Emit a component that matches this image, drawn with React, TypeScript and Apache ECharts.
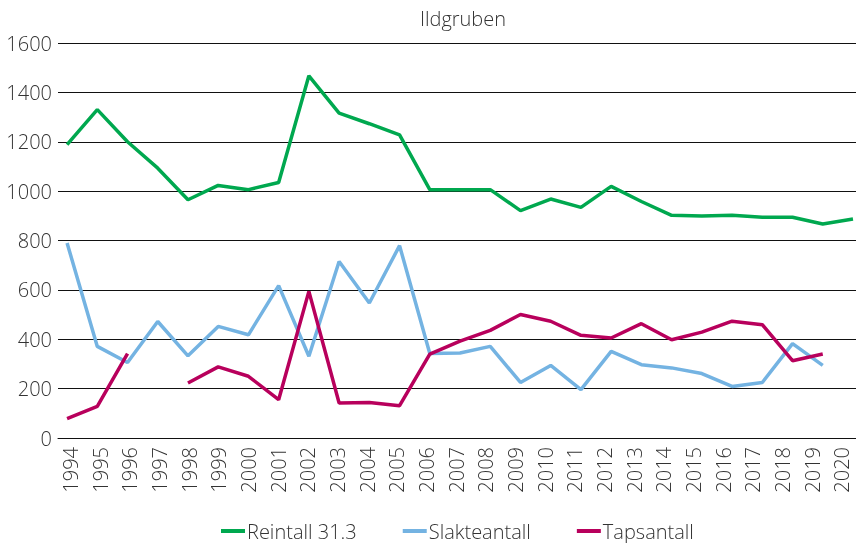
import React, { useEffect, useRef } from "react";
import * as echarts from "echarts";

const years = [1994, 1995, 1996, 1997, 1998, 1999, 2000, 2001, 2002, 2003, 2004, 2005, 2006, 2007, 2008, 2009, 2010, 2011, 2012, 2013, 2014, 2015, 2016, 2017, 2018, 2019, 2020];
const reintall = [1188, 1330, 1200, 1093, 965, 1023, 1006, 1035, 1467, 1316, 1273, 1228, 1006, 1006, 1006, 921, 968, 934, 1019, 958, 902, 899, 902, 894, 894, 867, 887];
const slakteantall = [790, 371, 306, 472, 333, 452, 418, 617, 331, 715, 547, 779, 342, 344, 371, 225, 294, 196, 351, 297, 284, 261, 209, 225, 382, 294, null];
const tapsantall = [78, 128, 342, null, 223, 288, 250, 155, 594, 142, 144, 131, 340, 392, 436, 500, 473, 416, 405, 463, 398, 429, 473, 459, 313, 340, null];
const yTicks = { min: 0, max: 1600, interval: 200 };
const title = "Ildgruben";
const names = ["Reintall 31.3", "Slakteantall", "Tapsantall"];
const colors = ["#00a84f", "#74b3e2", "#b8005c"];

const FONT = "'Open Sans', 'DejaVu Sans', sans-serif";
const TEXT = "#333333";

export default function App() {
  const ref = useRef<HTMLDivElement>(null);
  useEffect(() => {
    if (!ref.current) return;
    const chart = echarts.init(ref.current, null, { renderer: "svg" });
    const mk = (vals: (number | null)[]) => years.map((y, i) => [y, vals[i]]);
    const all = [reintall, slakteantall, tapsantall];
    const labelStyle = { fontFamily: FONT, fontSize: 20, fontWeight: 300, color: TEXT };
    chart.setOption({
      animation: false,
      title: {
        text: title,
        left: 458,
        top: 3,
        textAlign: "center",
        textStyle: { ...labelStyle },
      },
      legend: {
        data: names,
        top: 521,
        padding: 0,
        left: 221,
        icon: "rect",
        itemWidth: 24,
        itemHeight: 4,
        itemGap: 46,
        textStyle: { ...labelStyle, padding: [0, 0, 0, -3] },
      },
      grid: { left: 58, right: 0, top: 43, bottom: 105 },
      xAxis: [
        {
          type: "value",
          min: 1993.7,
          max: 2020.1,
          splitLine: { show: false },
          axisTick: { show: false },
          axisLine: { show: true, lineStyle: { color: "#111", width: 1 } },
          axisLabel: { show: false },
        },
        {
          type: "value",
          position: "bottom",
          min: 1993.579,
          max: 2020.472,
          splitLine: { show: false },
          axisTick: { show: false },
          axisLine: { show: false },
          axisLabel: {
            customValues: years,
            rotate: 90,
            margin: 9,
            formatter: (v: number) => String(v),
            ...labelStyle,
          },
        },
      ],
      yAxis: {
        type: "value",
        min: yTicks.min,
        max: yTicks.max,
        interval: yTicks.interval,
        axisLine: { show: false },
        axisTick: { show: false },
        splitLine: { lineStyle: { color: "#111", width: 1 } },
        axisLabel: { margin: 6, formatter: (v: number) => String(v), ...labelStyle },
      },
      series: names.map((n, i) => ({
        name: n,
        type: "line",
        xAxisIndex: 0,
        data: mk(all[i]),
        showSymbol: false,
        symbol: "none",
        lineStyle: { color: colors[i], width: 3.5 },
        itemStyle: { color: colors[i] },
        connectNulls: false,
      })),
    });
    return () => chart.dispose();
  }, []);
  return <div ref={ref} style={{ position: "fixed", left: 0, top: 0, width: 856, height: 543 }} />;
}
